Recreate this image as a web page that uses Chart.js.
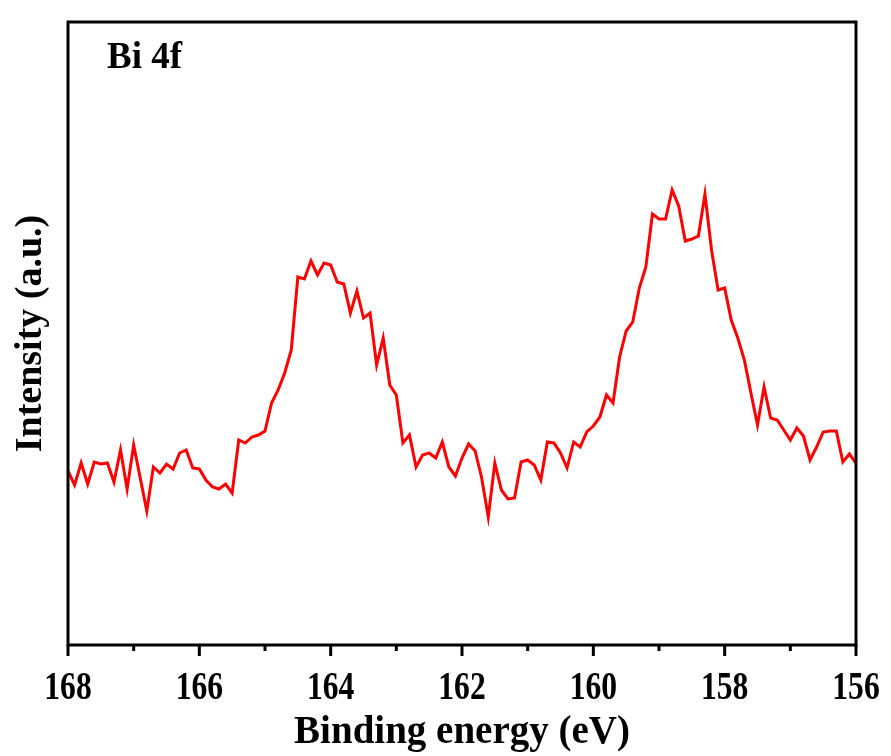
<!DOCTYPE html>
<html>
<head>
<meta charset="utf-8">
<script src="https://cdn.jsdelivr.net/npm/chart.js@4"></script>
<style>
  html, body { margin: 0; padding: 0; background: #fff; }
  #wrap { width: 891px; height: 756px; }
</style>
</head>
<body>
<div id="wrap"><canvas id="xpsChart" width="891" height="756"></canvas></div>
<script>
// Bi 4f XPS spectrum, binding energy in eV (0.1 eV steps)
const bindingEnergy = [
    168.0, 167.9, 167.8, 167.7, 167.6, 167.5, 167.4, 167.3, 167.2, 167.1,
    167.0, 166.9, 166.8, 166.7, 166.6, 166.5, 166.4, 166.3, 166.2, 166.1,
    166.0, 165.9, 165.8, 165.7, 165.6, 165.5, 165.4, 165.3, 165.2, 165.1,
    165.0, 164.9, 164.8, 164.7, 164.6, 164.5, 164.4, 164.3, 164.2, 164.1,
    164.0, 163.9, 163.8, 163.7, 163.6, 163.5, 163.4, 163.3, 163.2, 163.1,
    163.0, 162.9, 162.8, 162.7, 162.6, 162.5, 162.4, 162.3, 162.2, 162.1,
    162.0, 161.9, 161.8, 161.7, 161.6, 161.5, 161.4, 161.3, 161.2, 161.1,
    161.0, 160.9, 160.8, 160.7, 160.6, 160.5, 160.4, 160.3, 160.2, 160.1,
    160.0, 159.9, 159.8, 159.7, 159.6, 159.5, 159.4, 159.3, 159.2, 159.1,
    159.0, 158.9, 158.8, 158.7, 158.6, 158.5, 158.4, 158.3, 158.2, 158.1,
    158.0, 157.9, 157.8, 157.7, 157.6, 157.5, 157.4, 157.3, 157.2, 157.1,
    157.0, 156.9, 156.8, 156.7, 156.6, 156.5, 156.4, 156.3, 156.2, 156.1,
    156.0
];

// intensity, arbitrary units
const intensity = [
    174, 160, 182, 161, 183, 181, 182, 163, 195, 156,
    200, 167, 134, 178, 172, 181, 176, 192, 195, 177,
    176, 165, 158, 156, 161, 152, 205, 202, 208, 210,
    214, 242, 255, 272, 295, 368, 366, 384, 370, 382,
    380, 363, 361, 332, 354, 327, 332, 280, 307, 260,
    250, 202, 210, 178, 190, 192, 187, 203, 178, 169,
    187, 201, 194, 167, 128, 182, 155, 146, 147, 183,
    185, 180, 165, 203, 202, 192, 177, 203, 198, 213,
    219, 228, 250, 242, 288, 314, 323, 357, 378, 431,
    426, 426, 455, 439, 404, 406, 409, 451, 395, 355,
    357, 325, 307, 285, 252, 220, 258, 227, 225, 215,
    205, 217, 209, 185, 198, 213, 214, 214, 183, 191,
    182
];

const majorTicks = [168, 166, 164, 162, 160, 158, 156];
const minorTicks = [167, 165, 163, 161, 159, 157];
const xMin = 156, xMax = 168;
const yMin = 0, yMax = 623;
const panelLabel = 'Bi 4f';
const xTitle = 'Binding energy (eV)';
const yTitle = 'Intensity (a.u.)';

const serif = '"Liberation Serif", "Times New Roman", serif';

// frame, tick marks, narrow Times-style tick labels and the panel label
const framePlugin = {
    id: 'frame',
    afterDraw(chart) {
        const ctx = chart.ctx;
        const area = chart.chartArea;
        const xs = chart.scales.x;
        ctx.save();
        ctx.strokeStyle = '#000';
        ctx.lineWidth = 3;
        ctx.strokeRect(area.left, area.top, area.right - area.left, area.bottom - area.top);

        const tick = (v, len) => {
            const px = xs.getPixelForValue(v);
            ctx.beginPath();
            ctx.moveTo(px, area.bottom);
            ctx.lineTo(px, area.bottom + len);
            ctx.stroke();
        };
        majorTicks.forEach(v => tick(v, 11));
        minorTicks.forEach(v => tick(v, 6));

        ctx.fillStyle = '#000';
        ctx.font = 'bold 40px ' + serif;
        ctx.textAlign = 'center';
        ctx.textBaseline = 'middle';
        majorTicks.forEach(v => {
            const px = xs.getPixelForValue(v);
            ctx.save();
            ctx.translate(px, area.bottom + 44);
            ctx.scale(0.79, 1);
            ctx.fillText(String(v), 0, 0);
            ctx.restore();
        });

        ctx.font = 'bold 37px ' + serif;
        ctx.textAlign = 'left';
        ctx.fillText(panelLabel, area.left + 39, area.top + 36);
        ctx.restore();
    }
};

const ctx = document.getElementById('xpsChart').getContext('2d');

new Chart(ctx, {
    type: 'line',
    data: {
        datasets: [{
            label: 'Bi 4f',
            data: bindingEnergy.map((e, i) => ({ x: e, y: intensity[i] })),
            borderColor: '#ff0000',
            borderWidth: 3,
            pointRadius: 0,
            tension: 0,
            fill: false
        }]
    },
    options: {
        responsive: false,
        animation: false,
        layout: {
            padding: { top: 22, right: 35, left: 0, bottom: 0 }
        },
        plugins: {
            legend: { display: false },
            tooltip: { enabled: false }
        },
        scales: {
            x: {
                type: 'linear',
                reverse: true,
                min: xMin,
                max: xMax,
                grid: { display: false, drawTicks: false },
                border: { display: false },
                ticks: { display: false, stepSize: 2 },
                title: {
                    display: true,
                    text: xTitle,
                    color: '#000',
                    padding: { top: 0, bottom: 0 },
                    font: { family: serif, size: 39, weight: 'bold' }
                },
                afterFit(scale) { scale.height = 111; }
            },
            y: {
                min: yMin,
                max: yMax,
                grid: { display: false, drawTicks: false },
                border: { display: false },
                ticks: { display: false },
                title: {
                    display: true,
                    text: yTitle,
                    color: '#000',
                    padding: { top: 8, bottom: 0 },
                    font: { family: serif, size: 38, weight: 'bold' }
                },
                afterFit(scale) { scale.width = 68; }
            }
        }
    },
    plugins: [framePlugin]
});
</script>
</body>
</html>
